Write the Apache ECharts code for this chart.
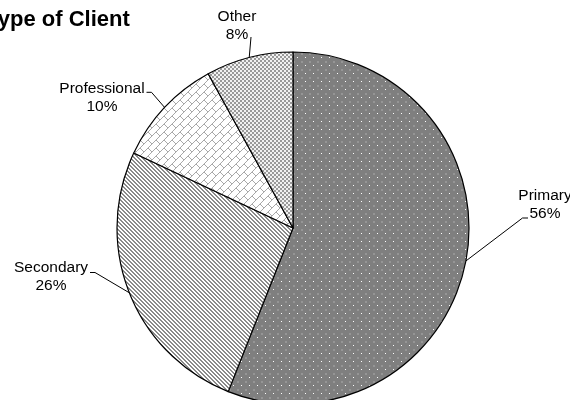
<!DOCTYPE html>
<html>
<head>
<meta charset="utf-8">
<script src="https://cdn.jsdelivr.net/npm/echarts@6/dist/echarts.min.js"></script>
<style>
html,body{margin:0;padding:0;background:#fff;}
#chart{width:570px;height:400px;}
</style>
</head>
<body>
<div id="chart"></div>
<script>
// ---- data ----
var titleText = 'Type of Client';
var categories = ['Primary', 'Secondary', 'Professional', 'Other'];
var values = [56, 26, 10, 8];

// ---- label placement (label centre, leader anchor, elbow) ----
var labelPlace = [
  { x: 545, y: 205, ax: 528, ay: 218, ex: 522.5, ey: 218 },
  { x: 51, y: 277, ax: 90, ay: 272.5, ex: 95, ey: 272.5 },
  { x: 102, y: 98, ax: 146.5, ay: 92.3, ex: 151.5, ey: 92.3 },
  { x: 237, y: 26, ax: 251, ay: 37, ex: null, ey: null }
];

var FONT = 'Arial, "Liberation Sans", sans-serif';

function makeTile(w, h, draw) {
  var c = document.createElement('canvas');
  c.width = w; c.height = h;
  var ctx = c.getContext('2d');
  draw(ctx);
  return c;
}
// Primary: dark grey with white dots
var patPrimary = makeTile(8, 8, function (ctx) {
  ctx.fillStyle = '#7f7f7f'; ctx.fillRect(0, 0, 8, 8);
  ctx.fillStyle = '#ffffff'; ctx.fillRect(1, 1, 1, 1);
  ctx.fillStyle = '#959595'; ctx.fillRect(5, 5, 2, 2);
});
// Secondary: diagonal stripes
var patSecondary = makeTile(4, 4, function (ctx) {
  ctx.fillStyle = '#ffffff'; ctx.fillRect(0, 0, 4, 4);
  ctx.fillStyle = '#8a8a8a';
  for (var y = 0; y < 4; y++) for (var x = 0; x < 4; x++) {
    var m = ((x - y) % 4 + 4) % 4;
    if (m === 0 || m === 1) ctx.fillRect(x, y, 1, 1);
  }
});
// Professional: diagonal brick (light)
var patProfessional = makeTile(8, 8, function (ctx) {
  ctx.fillStyle = '#ffffff'; ctx.fillRect(0, 0, 8, 8);
  ctx.fillStyle = '#a8a8a8';
  for (var i = 0; i < 8; i++) ctx.fillRect(i, 7 - i, 1, 1);
  for (var j = 0; j < 4; j++) ctx.fillRect(4 + j, 4 + j, 1, 1);
});
// Other: fine checker
var patOther = makeTile(4, 4, function (ctx) {
  ctx.fillStyle = '#f2f2f2'; ctx.fillRect(0, 0, 4, 4);
  ctx.fillStyle = '#9a9a9a';
  ctx.fillRect(0, 0, 2, 2); ctx.fillRect(2, 2, 2, 2);
});
var patterns = [patPrimary, patSecondary, patProfessional, patOther];

var chart = echarts.init(document.getElementById('chart'), null, { renderer: 'canvas' });

var seriesData = categories.map(function (name, i) {
  return {
    name: name,
    value: values[i],
    itemStyle: { color: { image: patterns[i], repeat: 'repeat' } }
  };
});

var option = {
  animation: false,
  backgroundColor: '#ffffff',
  title: {
    text: titleText,
    left: -14,
    top: 9,
    padding: 0,
    textStyle: { fontFamily: FONT, fontWeight: 'bold', fontSize: 22, color: '#000' }
  },
  series: [{
    type: 'pie',
    center: [293, 228],
    radius: 176,
    startAngle: 90,
    clockwise: true,
    silent: true,
    emphasis: { disabled: true },
    itemStyle: { borderColor: '#000', borderWidth: 1.2 },
    label: {
      show: true,
      position: 'outside',
      formatter: '{b}\n{d}%',
      fontFamily: FONT,
      fontSize: 15.5,
      lineHeight: 18,
      color: '#000'
    },
    labelLine: {
      show: true,
      length: 10,
      length2: 5,
      lineStyle: { color: '#000', width: 1 }
    },
    labelLayout: function (params) {
      var p = labelPlace[params.dataIndex];
      var start;
      if (params.labelLinePoints && params.labelLinePoints[0]) {
        start = params.labelLinePoints[0].slice();
      }
      var pts = [start];
      if (p.ex != null) pts.push([p.ex, p.ey]);
      pts.push([p.ax, p.ay]);
      return {
        x: p.x,
        y: p.y,
        align: 'center',
        verticalAlign: 'middle',
        labelLinePoints: pts
      };
    },
    data: seriesData
  }]
};
chart.setOption(option);
</script>
</body>
</html>
